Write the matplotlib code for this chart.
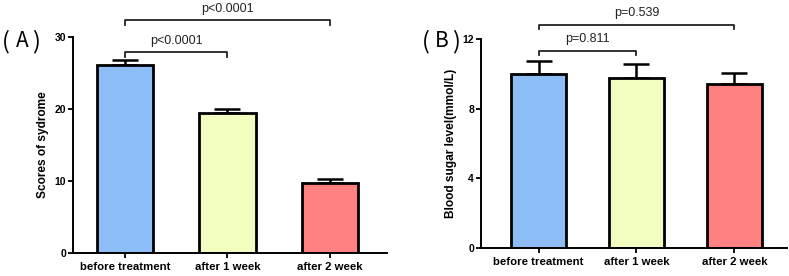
import matplotlib
matplotlib.use("Agg")
import matplotlib.pyplot as plt

categories = ["before treatment", "after 1 week", "after 2 week"]
scores = [26.07, 19.40, 9.72]
scores_err = [0.70, 0.60, 0.55]
sugar = [10.02, 9.77, 9.43]
sugar_err = [0.73, 0.81, 0.63]
colors = ["#8DBDF6", "#F2FDC0", "#FF8080"]
scores_ticks = [0, 10, 20, 30]
sugar_ticks = [0, 4, 8, 12]
scores_p = [(0, 1, "p<0.0001", 27.9), (0, 2, "p<0.0001", 32.3)]
sugar_p = [(0, 1, "p=0.811", 11.35), (0, 2, "p=0.539", 12.85)]

plt.rcParams['font.family'] = ['Liberation Sans', 'DejaVu Sans']

W, H = 789, 276
fig = plt.figure(figsize=(W / 100, H / 100), dpi=100)


def make_ax(l, r, t, b):
    return fig.add_axes([l / W, 1 - b / H, (r - l) / W, (b - t) / H])


def draw(ax, vals, errs, ticks, ylim, xlim, ylabel, brackets, bw):
    x = range(len(categories))
    ax.bar(x, vals, width=bw, color=colors, edgecolor="black", linewidth=2.0,
           zorder=2)
    ax.errorbar(x, vals, yerr=[[0] * len(errs), errs], fmt="none",
                ecolor="black", elinewidth=1.8, capsize=9.4, capthick=1.8,
                zorder=1)
    ax.set_xlim(*xlim)
    ax.set_ylim(*ylim)
    ax.set_yticks(ticks)
    ax.set_xticks(list(x))
    ax.set_xticklabels(categories, fontweight="bold", fontsize=8.2)
    for lab in ax.get_yticklabels():
        lab.set_fontweight("bold")
        lab.set_fontsize(7.5)
    ax.set_ylabel(ylabel, fontweight="bold", fontsize=8.6, labelpad=4)
    for s in ["top", "right"]:
        ax.spines[s].set_visible(False)
    for s in ["left", "bottom"]:
        ax.spines[s].set_linewidth(1.4)
    ax.tick_params(axis="both", direction="out", length=3.5, width=1.3, pad=1.5)
    ax.tick_params(axis="x", pad=3)
    rng = ylim[1] - ylim[0]
    for i0, i1, txt, yb in brackets:
        drop = rng * 0.022
        ax.plot([i0, i0, i1, i1], [yb - drop, yb, yb, yb - drop], color="#222222",
                lw=1.3, clip_on=False)
        ax.annotate(txt, xy=((i0 + i1) / 2, yb), xytext=(0, 8.2),
                    textcoords="offset points", ha="center", va="center",
                    fontsize=9, color="#222222", annotation_clip=False)


axA = make_ax(73, 387, 37, 253)
draw(axA, scores, scores_err, scores_ticks, (0, 30), (-0.51, 2.56),
     "Scores of sydrome", scores_p, 0.55)
axB = make_ax(481, 787, 39.3, 247.7)
draw(axB, sugar, sugar_err, sugar_ticks, (0, 12), (-0.587, 2.536),
     "Blood sugar level(mmol/L)", sugar_p, 0.56)

cjk = ['Noto Sans CJK SC', 'DejaVu Sans']
for letter, cx in [("A", 22.0), ("B", 442.0)]:
    fig.text((cx - 16.0) / W, 1 - 42 / H, "(", fontsize=17, family=cjk,
             va="center", ha="center", fontweight="light")
    fig.text(cx / W, 1 - 41 / H, letter, fontsize=15, family=cjk,
             va="center", ha="center")
    fig.text((cx + 14.0) / W, 1 - 42 / H, ")", fontsize=17, family=cjk,
             va="center", ha="center", fontweight="light")

fig.savefig("out.png", dpi=100)
